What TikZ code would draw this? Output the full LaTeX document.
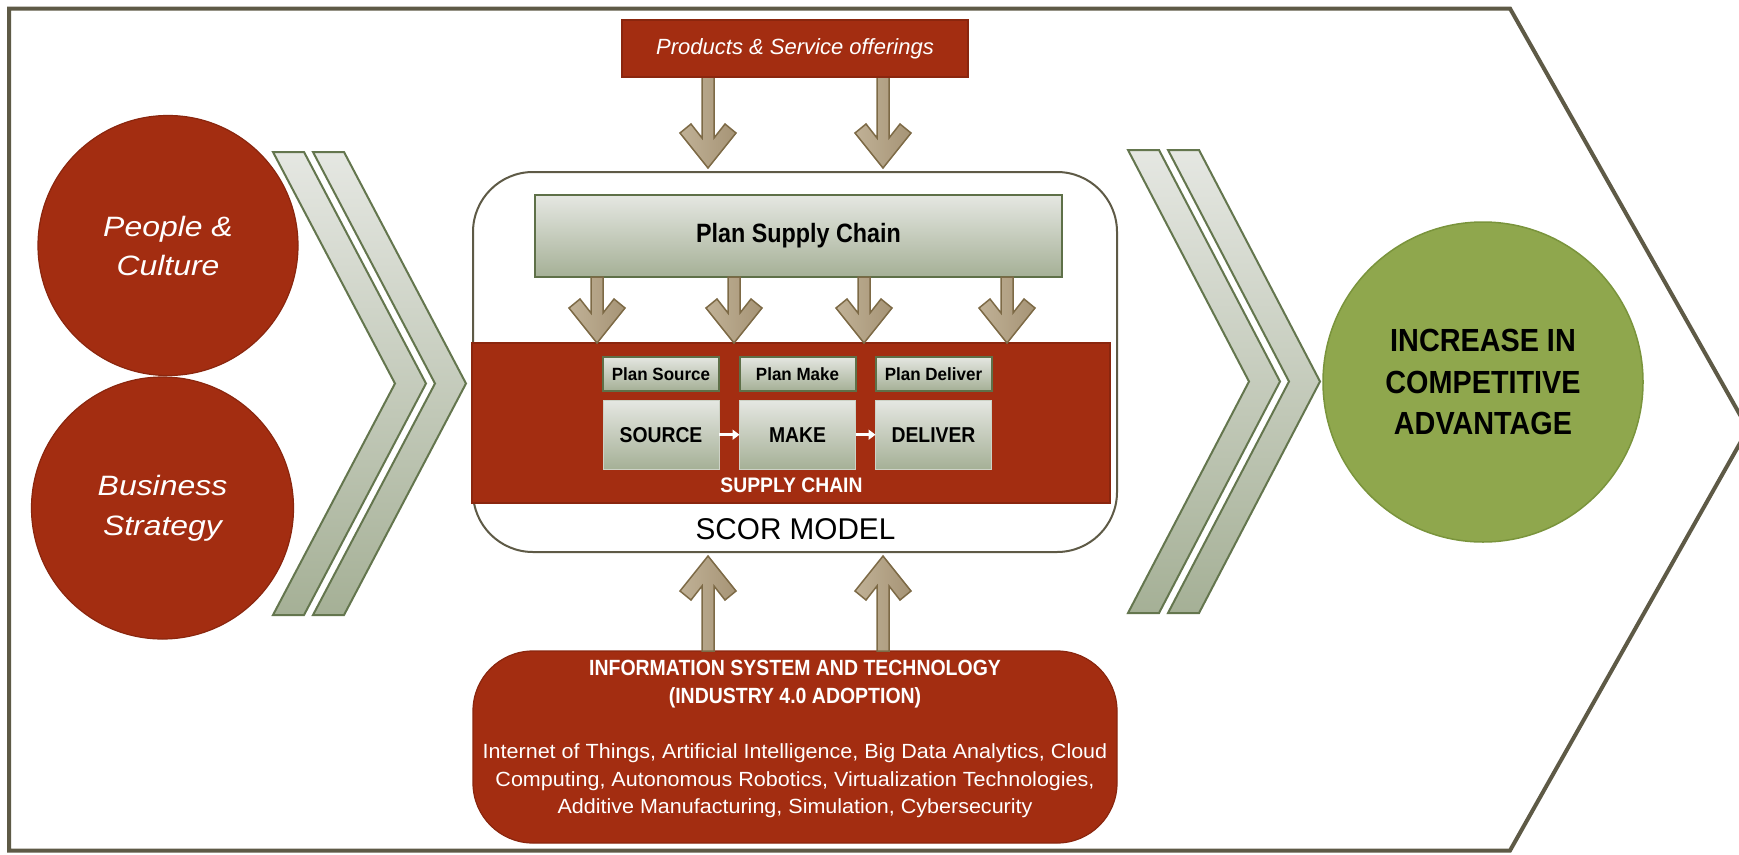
\documentclass[tikz,border=0pt]{standalone}
\usepackage{fontspec}
\setmainfont{Liberation Sans}
\usetikzlibrary{calc,arrows.meta}

\definecolor{scred}{RGB}{163,45,17}
\definecolor{scredline}{RGB}{138,38,14}
\definecolor{frameline}{RGB}{94,90,70}
\definecolor{boxtop}{RGB}{229,231,226}
\definecolor{boxbot}{RGB}{165,176,150}
\definecolor{boxline}{RGB}{94,112,72}
\definecolor{lightline}{RGB}{205,210,198}
\definecolor{chevline}{RGB}{100,118,78}
\definecolor{arrL}{RGB}{192,177,150}
\definecolor{arrR}{RGB}{166,148,118}
\definecolor{arrline}{RGB}{125,106,70}
\definecolor{advgreen}{RGB}{143,167,77}
\definecolor{advline}{RGB}{122,148,60}

% horizontal squeeze/stretch of a piece of text
\newcommand\sx[2]{\scalebox{#1}[1]{#2}}

% block arrows: #1 = start point (its x is used), #2 = tip point (its y is used)
\newcommand\blockdown[2]{%
  \shadedraw[barrow] let \p1=#1, \p2=#2 in
    (\x1-6pt,\y1) -- (\x1-6pt,\y2+30pt) -- (\x1-17pt,\y2+44pt) -- (\x1-28pt,\y2+35pt)
    -- (\x1,\y2) -- (\x1+28pt,\y2+35pt) -- (\x1+17pt,\y2+44pt) -- (\x1+6pt,\y2+30pt)
    -- (\x1+6pt,\y1) -- cycle;}
\newcommand\blockup[2]{%
  \shadedraw[barrow] let \p1=#1, \p2=#2 in
    (\x1-6pt,\y1) -- (\x1-6pt,\y2-30pt) -- (\x1-17pt,\y2-44pt) -- (\x1-28pt,\y2-35pt)
    -- (\x1,\y2) -- (\x1+28pt,\y2-35pt) -- (\x1+17pt,\y2-44pt) -- (\x1+6pt,\y2-30pt)
    -- (\x1+6pt,\y1) -- cycle;}

% double-chevron band: #1 = left x, #2 = top, #3 = bottom, #4 = depth of the point
\newcommand\chevronband[4]{%
  \draw[chev] (#1,#2) -- (#1+31,#2) -- (#1+31+#4,{(#2+#3)/2}) -- (#1+31,#3)
    -- (#1,#3) -- (#1+#4,{(#2+#3)/2}) -- cycle;}

\begin{document}
\begin{tikzpicture}[x=1pt,y=-1pt,
  every node/.style={inner sep=0pt, outer sep=0pt},
  redcircle/.style={circle, fill=scred, draw=scredline, line width=1.2pt,
    text=white, align=center},
  redbox/.style={rectangle, fill=scred, draw=scredline, line width=1.2pt},
  greenbox/.style={rectangle, top color=boxtop, bottom color=boxbot,
    draw=boxline, line width=2pt},
  stagebox/.style={rectangle, top color=boxtop, bottom color=boxbot,
    draw=lightline, line width=0.8pt, minimum width=116pt, minimum height=69pt,
    font=\fontsize{21.5}{24}\selectfont\bfseries},
  subplan/.style={rectangle, top color=boxtop, bottom color=boxbot,
    draw=boxline, line width=2pt, minimum width=116pt, minimum height=34pt,
    font=\fontsize{17.7}{20}\selectfont\bfseries},
  chev/.style={top color=boxtop, bottom color=boxbot, draw=chevline,
    line width=2pt, line join=miter},
  barrow/.style={left color=arrL, right color=arrR, draw=arrline,
    line width=1.5pt, line join=miter},
  flow/.style={draw=white, line width=2.5pt, -{Triangle[length=7pt,width=10pt]}},
  roundframe/.style={rectangle, rounded corners=60pt, line width=2pt}]

\useasboundingbox (0,0) rectangle (1739,854);
\fill[white] (0,0) rectangle (1739,854);

% outer pointed frame
\draw[frameline, line width=4pt, line join=miter]
  (9,8.5) -- (1510,8.5) -- (1748,429) -- (1510,850.5) -- (9,850.5) -- cycle;

% chevron bands
\chevronband{273}{152}{615}{122}
\chevronband{313}{152}{615}{122}
\chevronband{1128}{150}{613}{121}
\chevronband{1168}{150}{613}{121}

% drivers on the left
\node[redcircle, minimum size=260pt,
  font=\fontsize{28}{39}\selectfont\itshape] (people) at (168,245.5)
  {\sx{1.14}{People \&}\\\sx{1.14}{Culture}};
\node[redcircle, minimum size=262pt,
  font=\fontsize{28}{40}\selectfont\itshape] (business) at (162.5,508)
  {\sx{1.14}{Business}\\\sx{1.14}{Strategy}};

% SCOR model container
\node[roundframe, draw=frameline, fill=white, minimum width=644pt,
  minimum height=380pt] (scor) at (795,362) {};
\node[greenbox, minimum width=527pt, minimum height=82pt,
  font=\fontsize{26.5}{30}\selectfont\bfseries] (plan) at (798.5,236)
  {\sx{0.88}{Plan Supply Chain}};
\node[redbox, minimum width=638pt, minimum height=160pt] (sc) at (791,423) {};

\node[subplan] (psrc) at (661,373.7) {\sx{0.96}{Plan Source}};
\node[subplan] (pmk) at (797.5,373.7) {\sx{0.96}{Plan Make}};
\node[subplan] (pdel) at (933.5,373.7) {\sx{0.96}{Plan Deliver}};

\node[stagebox] (src) at (661,434.7) {\sx{0.9}{SOURCE}};
\node[stagebox] (mk) at (797.5,434.7) {\sx{0.9}{MAKE}};
\node[stagebox] (del) at (933.5,434.7) {\sx{0.9}{DELIVER}};
\draw[flow] (src.east) -- (mk.west);
\draw[flow] (mk.east) -- (del.west);

\node[text=white, font=\fontsize{21}{24}\selectfont\bfseries] (sclabel)
  at (791.5,485) {\sx{0.92}{SUPPLY CHAIN}};
\node[font=\fontsize{30}{34}\selectfont] (scorlabel) at (795.5,529)
  {\sx{0.99}{SCOR MODEL}};

% planning flows into the supply chain
\coordinate (q1) at (597,0);
\coordinate (q2) at (734,0);
\coordinate (q3) at (864,0);
\coordinate (q4) at (1007,0);
\blockdown{(q1 |- plan.south)}{(q1 |- sc.north)}
\blockdown{(q2 |- plan.south)}{(q2 |- sc.north)}
\blockdown{(q3 |- plan.south)}{(q3 |- sc.north)}
\blockdown{(q4 |- plan.south)}{(q4 |- sc.north)}

% products and services feeding the model
\coordinate (a1) at (708,0);
\coordinate (a2) at (883,0);
\node[redbox, minimum width=346pt, minimum height=57pt, text=white,
  font=\fontsize{22}{26}\selectfont\itshape] (prod) at (795,48.5) {};
\blockdown{(a1 |- prod.south)}{($(a1 |- scor.north)+(0,-4)$)}
\blockdown{(a2 |- prod.south)}{($(a2 |- scor.north)+(0,-4)$)}
\node[redbox, minimum width=346pt, minimum height=57pt, text=white,
  font=\fontsize{22}{26}\selectfont\itshape] (prodtext) at (795,48.5)
  {Products \& Service offerings};

% information systems and technology
\node[roundframe, fill=scred, draw=scredline, line width=1.2pt,
  minimum width=644pt, minimum height=192pt] (ist) at (795,747) {};
\blockup{(a1 |- ist.north)}{($(a1 |- scor.south)+(0,4)$)}
\blockup{(a2 |- ist.north)}{($(a2 |- scor.south)+(0,4)$)}
\node[text=white, align=center, font=\fontsize{22}{28}\selectfont\bfseries]
  (isthead) at (795,684)
  {\sx{0.885}{INFORMATION SYSTEM AND TECHNOLOGY}\\\sx{0.885}{(INDUSTRY 4.0 ADOPTION)}};
\node[text=white, align=center, font=\fontsize{20.5}{27.5}\selectfont]
  (istbody) at (795,781)
  {\sx{1.05}{Internet of Things, Artificial Intelligence, Big Data Analytics, Cloud}\\
   \sx{1.05}{Computing, Autonomous Robotics, Virtualization Technologies,}\\
   \sx{1.05}{Additive Manufacturing, Simulation, Cybersecurity}};

% outcome
\node[circle, fill=advgreen, draw=advline, line width=1.5pt, minimum size=320pt,
  align=center, font=\fontsize{32}{41.5}\selectfont\bfseries] (adv) at (1483,382)
  {\sx{0.9}{INCREASE IN}\\\sx{0.9}{COMPETITIVE}\\\sx{0.9}{ADVANTAGE}};

\end{tikzpicture}
\end{document}
